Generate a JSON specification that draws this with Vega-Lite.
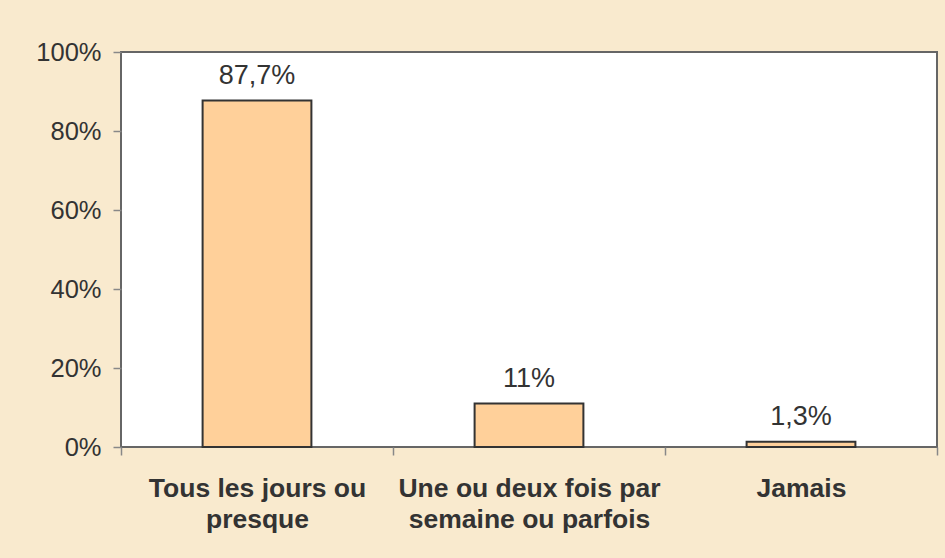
{
  "$schema": "https://vega.github.io/schema/vega-lite/v6.json",
  "autosize": "none",
  "width": 816,
  "height": 395,
  "padding": {"left": 121, "top": 52, "right": 8, "bottom": 111},
  "background": "#F9EACE",
  "config": {
    "view": {"fill": "white", "stroke": "#666666", "strokeWidth": 2},
    "font": "Liberation Sans"
  },
  "data": {
    "values": [
      {"cat": "Tous les jours ou|presque", "value": 0.877, "label": "87,7%"},
      {"cat": "Une ou deux fois par|semaine ou parfois", "value": 0.11, "label": "11%"},
      {"cat": "Jamais", "value": 0.013, "label": "1,3%"}
    ]
  },
  "encoding": {
    "x": {
      "field": "cat",
      "type": "nominal",
      "sort": null,
      "scale": {"paddingInner": 0, "paddingOuter": 0},
      "axis": {
        "title": null,
        "labelAngle": 0,
        "labelExpr": "split(datum.label, '|')",
        "labelFontSize": 26.5,
        "labelFontWeight": "bold",
        "labelColor": "#333333",
        "labelLineHeight": 31,
        "labelPadding": 20,
        "labelLimit": 300,
        "domain": false,
        "tickBand": "extent",
        "tickSize": 8,
        "tickColor": "#888888",
        "tickWidth": 1.5
      }
    },
    "y": {
      "field": "value",
      "type": "quantitative",
      "scale": {"domain": [0, 1]},
      "axis": {
        "title": null,
        "format": ".0%",
        "values": [0, 0.2, 0.4, 0.6, 0.8, 1],
        "grid": false,
        "domain": false,
        "labelFontSize": 25.5,
        "labelColor": "#333333",
        "labelPadding": 12,
        "tickSize": 8,
        "tickColor": "#888888",
        "tickWidth": 1.5
      }
    }
  },
  "layer": [
    {
      "mark": {"type": "bar", "width": {"band": 0.4}, "fill": "#FFD09A", "stroke": "#333333", "strokeWidth": 2}
    },
    {
      "mark": {"type": "text", "baseline": "alphabetic", "dy": -17, "fontSize": 27, "color": "#333333"},
      "encoding": {"text": {"field": "label"}}
    }
  ]
}
